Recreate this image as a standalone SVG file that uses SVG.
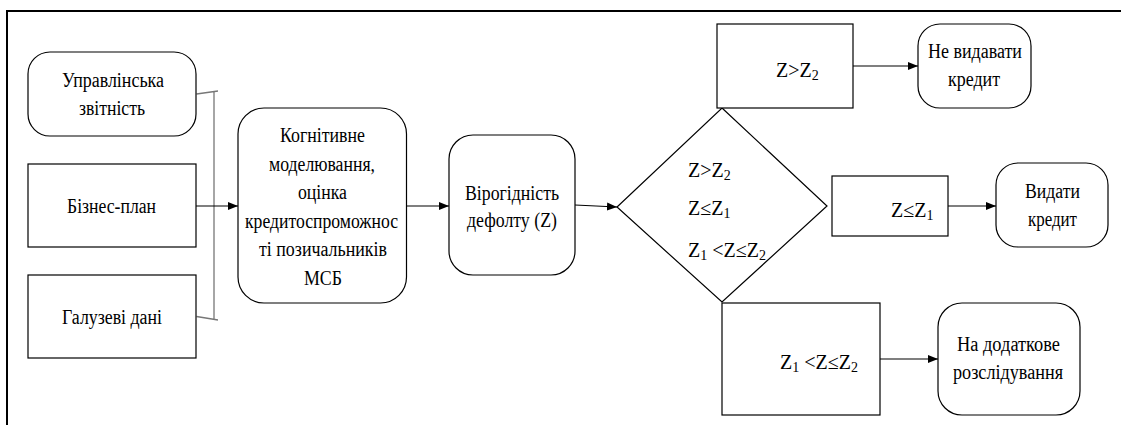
<svg xmlns="http://www.w3.org/2000/svg" width="1121" height="425" viewBox="0 0 1121 425">
<style>
.box{fill:#fff;stroke:#000;stroke-width:1.2}
.t{font-size:20px;fill:#000;text-anchor:middle}
.f{font-size:20px;fill:#000}
.s{font-size:14px}
.c{stroke:#000;stroke-width:1.2;fill:none}
.g{stroke:#777;stroke-width:1.3;fill:none}
</style>
<defs>
<marker id="ah" markerWidth="10" markerHeight="10" refX="10" refY="5" orient="auto" markerUnits="userSpaceOnUse">
<path d="M0,1 L10,5 L0,9 Z" fill="#000"/>
</marker>
</defs>
<rect width="1121" height="425" fill="#fff"/>
<path d="M7,425 V11 H1121" fill="none" stroke="#000" stroke-width="2"/>

<g id="connectors">
<path class="g" d="M196.5,94 L218,91 M214,91 V320 M196.5,316.5 L218,320"/>
<line class="c" x1="196" y1="206" x2="238" y2="206" marker-end="url(#ah)"/>
<line class="c" x1="407" y1="206" x2="449" y2="206" marker-end="url(#ah)"/>
<line class="c" x1="575" y1="205" x2="617" y2="207" marker-end="url(#ah)"/>
<line class="c" x1="853" y1="66" x2="918" y2="66" marker-end="url(#ah)"/>
<line class="c" x1="948" y1="206" x2="996" y2="206" marker-end="url(#ah)"/>
<line class="c" x1="880" y1="359" x2="938" y2="359" marker-end="url(#ah)"/>
</g>

<g font-family="Liberation Serif, Times New Roman, DejaVu Serif, serif">
<g id="n-upr">
<rect class="box" x="28" y="52" width="168" height="84" rx="22"/>
<text class="t" x="113" y="87" textLength="102" lengthAdjust="spacingAndGlyphs">Управлінська</text>
<text class="t" x="112" y="115" textLength="66" lengthAdjust="spacingAndGlyphs">звітність</text>
</g>
<g id="n-bplan">
<rect class="box" x="28" y="164" width="168" height="83"/>
<text class="t" x="111.5" y="213" textLength="89" lengthAdjust="spacingAndGlyphs">Бізнес-план</text>
</g>
<g id="n-galuz">
<rect class="box" x="28" y="275" width="168" height="83"/>
<text class="t" x="112" y="324" textLength="100" lengthAdjust="spacingAndGlyphs">Галузеві дані</text>
</g>
<g id="n-kogn">
<rect class="box" x="238" y="108" width="168.5" height="195" rx="26"/>
<text class="t" x="322.5" y="142" textLength="85" lengthAdjust="spacingAndGlyphs">Когнітивне</text>
<text class="t" x="322" y="170.5" textLength="106" lengthAdjust="spacingAndGlyphs">моделювання,</text>
<text class="t" x="322.5" y="199" textLength="49" lengthAdjust="spacingAndGlyphs">оцінка</text>
<text class="t" x="321.5" y="227.5" textLength="153" lengthAdjust="spacingAndGlyphs">кредитоспроможнос</text>
<text class="t" x="323" y="256" textLength="128" lengthAdjust="spacingAndGlyphs">ті позичальників</text>
<text class="t" x="323" y="284.5" textLength="38" lengthAdjust="spacingAndGlyphs">МСБ</text>
</g>
<g id="n-virog">
<rect class="box" x="449" y="135" width="126" height="140" rx="24"/>
<text class="t" x="512" y="200" textLength="94" lengthAdjust="spacingAndGlyphs">Вірогідність</text>
<text class="t" x="512" y="227" textLength="90" lengthAdjust="spacingAndGlyphs">дефолту (Z)</text>
</g>
<g id="n-diamond">
<polygon class="box" points="722,108 827,206 722,302 617,207"/>
<text class="f" x="688" y="177">Z&gt;Z<tspan class="s" dy="3">2</tspan></text>
<text class="f" x="688" y="215">Z≤Z<tspan class="s" dy="3">1</tspan></text>
<text class="f" x="688" y="257">Z<tspan class="s" dy="3">1</tspan><tspan dy="-3"> &lt;Z≤Z</tspan><tspan class="s" dy="3">2</tspan></text>
</g>
<g id="n-top">
<rect class="box" x="717" y="24" width="136" height="84"/>
<text class="f" x="776" y="77">Z&gt;Z<tspan class="s" dy="3">2</tspan></text>
</g>
<g id="n-mid">
<rect class="box" x="832" y="176" width="116" height="60"/>
<text class="f" x="891" y="217">Z≤Z<tspan class="s" dy="3">1</tspan></text>
</g>
<g id="n-bot">
<rect class="box" x="722" y="303" width="158" height="112"/>
<text class="f" x="780" y="369">Z<tspan class="s" dy="3">1</tspan><tspan dy="-3"> &lt;Z≤Z</tspan><tspan class="s" dy="3">2</tspan></text>
</g>
<g id="n-nevyd">
<rect class="box" x="918" y="24" width="113" height="84" rx="22"/>
<text class="t" x="975" y="58" textLength="94" lengthAdjust="spacingAndGlyphs">Не видавати</text>
<text class="t" x="974" y="86" textLength="52" lengthAdjust="spacingAndGlyphs">кредит</text>
</g>
<g id="n-vyd">
<rect class="box" x="996" y="163" width="112" height="84" rx="22"/>
<text class="t" x="1052.5" y="198" textLength="55" lengthAdjust="spacingAndGlyphs">Видати</text>
<text class="t" x="1052.5" y="226" textLength="49" lengthAdjust="spacingAndGlyphs">кредит</text>
</g>
<g id="n-dod">
<rect class="box" x="938" y="303" width="142" height="112" rx="24"/>
<text class="t" x="1008.5" y="351" textLength="103" lengthAdjust="spacingAndGlyphs">На додаткове</text>
<text class="t" x="1008" y="379" textLength="110" lengthAdjust="spacingAndGlyphs">розслідування</text>
</g>
</g>
</svg>
